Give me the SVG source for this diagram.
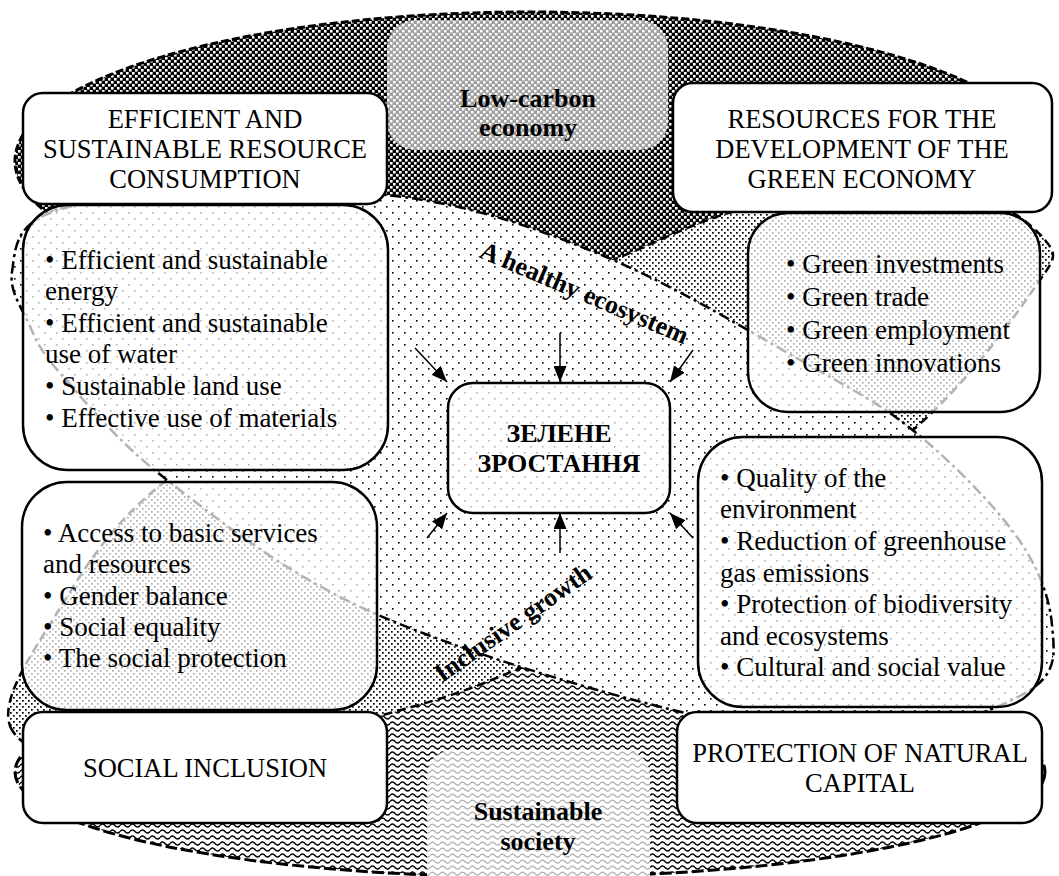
<svg xmlns="http://www.w3.org/2000/svg" width="1059" height="876" viewBox="0 0 1059 876">
  <defs>
    <!-- fill textures -->
    <pattern id="pDark" width="6" height="6" patternUnits="userSpaceOnUse">
      <rect width="6" height="6" fill="#000"/>
      <rect x="0" y="0" width="2.6" height="2.6" fill="#fff"/>
      <rect x="3" y="3" width="2.6" height="2.6" fill="#fff"/>
    </pattern>
    <pattern id="pLight" width="6" height="6" patternUnits="userSpaceOnUse">
      <rect width="6" height="6" fill="#a0a0a0"/>
      <rect x="0" y="0" width="2.5" height="2.5" fill="#fff"/>
      <rect x="3" y="3" width="2.5" height="2.5" fill="#fff"/>
    </pattern>
    <pattern id="pSparse" width="12" height="12" patternUnits="userSpaceOnUse">
      <rect width="12" height="12" fill="#fff"/>
      <rect x="2" y="2" width="1.6" height="1.6" fill="#000"/>
      <rect x="8" y="8" width="1.6" height="1.6" fill="#000"/>
    </pattern>
    <pattern id="pMed" width="6" height="6" patternUnits="userSpaceOnUse">
      <rect width="6" height="6" fill="#fff"/>
      <rect x="1" y="1" width="1.7" height="1.7" fill="#000"/>
      <rect x="4" y="4" width="1.7" height="1.7" fill="#000"/>
    </pattern>
    <pattern id="pWave" width="10" height="6" patternUnits="userSpaceOnUse">
      <rect width="10" height="6" fill="#fff"/>
      <path d="M0 3.6 Q2.5 0.6 5 3.6 T10 3.6" fill="none" stroke="#000" stroke-width="1.5"/>
    </pattern>
    <pattern id="pWaveGrey" width="10" height="6" patternUnits="userSpaceOnUse">
      <rect width="10" height="6" fill="#fff"/>
      <path d="M0 3.6 Q2.5 0.6 5 3.6 T10 3.6" fill="none" stroke="#aaa" stroke-width="1.3"/>
    </pattern>
    <marker id="arrowhead" viewBox="0 0 16 13" refX="16" refY="6.5" markerWidth="16" markerHeight="13" markerUnits="userSpaceOnUse" orient="auto">
      <path d="M0,0 L16,6.5 L0,13 Z" fill="#000"/>
    </marker>
    <style>
      .hdr{fill:#fff;stroke:#000;stroke-width:2.5}
      .lst{fill:#fff;fill-opacity:0.7;stroke:#000;stroke-width:2.5}
      .t{font-family:"Liberation Serif","Times New Roman",serif;font-size:26.5px;fill:#000}
      .li{font-size:27px}
      .c{text-anchor:middle}
      .b{font-weight:bold;font-size:26px}
      .arr{stroke:#000;stroke-width:1.5;fill:none;marker-end:url(#arrowhead)}
    </style>
  </defs>

  <rect width="1059" height="876" fill="#fff"/>

  <!-- overlapping zones -->
  <g id="zones">
    <ellipse id="zone-top" cx="530" cy="161" rx="515" ry="149" fill="url(#pDark)" stroke="#000" stroke-width="3" stroke-dasharray="8 3"/>
    <ellipse id="zone-bottom" cx="530" cy="772" rx="515" ry="105" fill="url(#pWave)" stroke="#000" stroke-width="3" stroke-dasharray="12 4"/>
    <path id="zone-rising" d="M12,730 C-3.5,703.8 31.2,654.7 57,613 C82.8,571.3 109.8,523.8 167,480 C224.2,436.2 325.7,386.7 400,350 C474.3,313.3 553,284.2 613,260 C673,235.8 703.8,216.7 760,205 C816.2,193.3 902.5,184.2 950,190 C997.5,195.8 1031.2,223.3 1045,240 C1058.8,256.7 1055,258.3 1033,290 C1011,321.7 968.5,381.7 913,430 C857.5,478.3 765.5,540.3 700,580 C634.5,619.7 571.7,645.8 520,668 C468.3,690.2 451.7,696 390,713 C328.3,730 213,767.2 150,770 C87,772.8 27.5,756.2 12,730 Z" fill="url(#pMed)" stroke="#000" stroke-width="2.5" stroke-dasharray="9 5"/>
    <path id="zone-falling" d="M12,272 C14.8,254.2 13.7,228.7 45,215 C76.3,201.3 137,192.5 200,190 C263,187.5 354.2,188.3 423,200 C491.8,211.7 550.2,233.3 613,260 C675.8,286.7 749.7,331.3 800,360 C850.3,388.7 878.8,402.5 915,432 C951.2,461.5 994.2,504.8 1017,537 C1039.8,569.2 1049.8,599.5 1052,625 C1054.2,650.5 1058.7,671.7 1030,690 C1001.3,708.3 939.5,731.7 880,735 C820.5,738.3 758.5,730.8 673,710 C587.5,689.2 451.3,648.3 367,610 C282.7,571.7 218.2,519.5 167,480 C115.8,440.5 83.2,399.3 60,373 C36.8,346.7 36,338.8 28,322 C20,305.2 9.2,289.8 12,272 Z" fill="url(#pSparse)" stroke="#000" stroke-width="2.5" stroke-dasharray="11 4 3 4"/>
    <text class="t b" transform="translate(478,257) rotate(23)">A healthy ecosystem</text>
    <text class="t b" transform="translate(442,683) rotate(-35)">Inclusive growth</text>
  </g>

  <g id="low-carbon">
    <rect x="387" y="20" width="281" height="130" rx="28" fill="url(#pLight)"/>
    <text class="t c b" x="528" y="107">Low-carbon</text>
    <text class="t c b" x="528" y="136">economy</text>
  </g>

  <g id="sustainable-society">
    <rect x="427" y="750" width="223" height="160" rx="25" fill="url(#pWaveGrey)"/>
    <text class="t c b" x="538" y="820">Sustainable</text>
    <text class="t c b" x="538" y="850">society</text>
  </g>

  <g id="resource-consumption">
    <rect class="hdr" x="23" y="93" width="364" height="111" rx="20"/>
    <text class="t c" x="205" y="128">EFFICIENT AND</text>
    <text class="t c" x="205" y="158">SUSTAINABLE RESOURCE</text>
    <text class="t c" x="205" y="188">CONSUMPTION</text>
  </g>

  <g id="green-economy-resources">
    <rect class="hdr" x="673" y="83" width="379" height="129" rx="20"/>
    <text class="t c" x="862" y="128">RESOURCES FOR THE</text>
    <text class="t c" x="862" y="158">DEVELOPMENT OF THE</text>
    <text class="t c" x="862" y="188">GREEN ECONOMY</text>
  </g>

  <g id="consumption-items">
    <rect class="lst" x="23" y="205" width="365" height="265" rx="45"/>
    <text class="t li" x="45" y="269">• Efficient and sustainable</text>
    <text class="t li" x="45" y="300">energy</text>
    <text class="t li" x="45" y="332">• Efficient and sustainable</text>
    <text class="t li" x="45" y="363">use of water</text>
    <text class="t li" x="45" y="395">• Sustainable land use</text>
    <text class="t li" x="45" y="427">• Effective use of materials</text>
  </g>

  <g id="economy-items">
    <rect class="lst" x="748" y="213" width="292" height="199" rx="40"/>
    <text class="t li" x="786" y="273">• Green investments</text>
    <text class="t li" x="786" y="306">• Green trade</text>
    <text class="t li" x="786" y="339">• Green employment</text>
    <text class="t li" x="786" y="372">• Green innovations</text>
  </g>

  <g id="inclusion-items">
    <rect class="lst" x="22" y="482" width="355" height="228" rx="45"/>
    <text class="t li" x="43" y="542">• Access to basic services</text>
    <text class="t li" x="43" y="573">and resources</text>
    <text class="t li" x="43" y="605">• Gender balance</text>
    <text class="t li" x="43" y="636">• Social equality</text>
    <text class="t li" x="43" y="667">• The social protection</text>
  </g>

  <g id="capital-items">
    <rect class="lst" x="698" y="437" width="344" height="270" rx="45"/>
    <text class="t li" x="720" y="487">• Quality of the</text>
    <text class="t li" x="720" y="518">environment</text>
    <text class="t li" x="720" y="550">• Reduction of greenhouse</text>
    <text class="t li" x="720" y="582">gas emissions</text>
    <text class="t li" x="720" y="613">• Protection of biodiversity</text>
    <text class="t li" x="720" y="645">and ecosystems</text>
    <text class="t li" x="720" y="676">• Cultural and social value</text>
  </g>

  <g id="social-inclusion">
    <rect class="hdr" x="23" y="712" width="364" height="111" rx="20"/>
    <text class="t c" x="205" y="777">SOCIAL INCLUSION</text>
  </g>

  <g id="natural-capital">
    <rect class="hdr" x="677" y="712" width="365" height="111" rx="20"/>
    <text class="t c" x="860" y="762">PROTECTION OF NATURAL</text>
    <text class="t c" x="860" y="792">CAPITAL</text>
  </g>

  <g id="green-growth">
    <rect class="lst" x="448" y="383" width="222" height="130" rx="25"/>
    <text class="t c b" x="559" y="442">ЗЕЛЕНЕ</text>
    <text class="t c b" x="559" y="472">ЗРОСТАННЯ</text>
  </g>

  <g id="connectors">
    <line class="arr" x1="415" y1="348" x2="447" y2="382"/>
    <line class="arr" x1="560" y1="333" x2="560" y2="382"/>
    <line class="arr" x1="693" y1="350" x2="670" y2="382"/>
    <line class="arr" x1="427" y1="538" x2="447" y2="513"/>
    <line class="arr" x1="560" y1="553" x2="560" y2="513"/>
    <line class="arr" x1="693" y1="538" x2="670" y2="513"/>
  </g>
</svg>
